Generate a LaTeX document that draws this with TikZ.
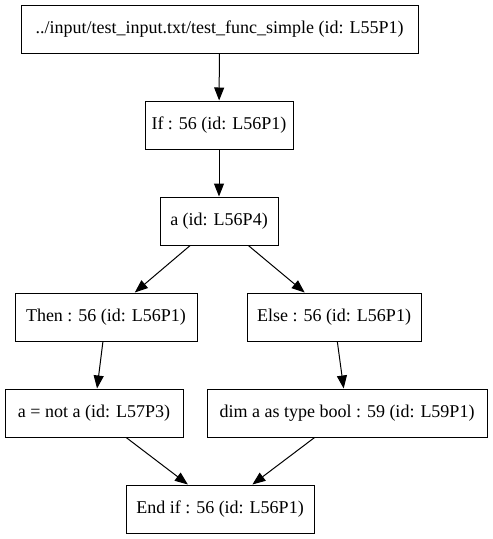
\documentclass[tikz,border=0pt]{standalone}
\usepackage{fontspec}
\setmainfont{Liberation Serif}
\usetikzlibrary{arrows.meta}
\begin{document}
\begin{tikzpicture}[x=1pt,y=-1pt,
  box/.style={draw,line width=1pt,rectangle,inner sep=0pt,minimum height=48pt,font=\fontsize{18pt}{20pt}\selectfont},
  edge/.style={line width=1pt,-{Triangle[length=13pt,width=10pt]}}]
\useasboundingbox (0,0) rectangle (493,539);
\node[box,minimum width=397pt] (top) at (219.5,29) {../input/test\_input.txt/test\_func\_simple (id: L55P1)};
\node[box,minimum width=148pt] (if) at (219,125) {If : 56 (id: L56P1)};
\node[box,minimum width=118pt] (a) at (219,221) {a (id: L56P4)};
\node[box,minimum width=182pt] (then) at (106,317) {Then : 56 (id: L56P1)};
\node[box,minimum width=174pt] (else) at (334,317) {Else : 56 (id: L56P1)};
\node[box,minimum width=178pt] (anot) at (94,413) {a = not a (id: L57P3)};
\node[box,minimum width=280pt] (dim) at (347,413) {dim a as type bool : 59 (id: L59P1)};
\node[box,minimum width=188pt] (end) at (220,509) {End if : 56 (id: L56P1)};
\draw[edge] (top) -- (if);
\draw[edge] (if) -- (a);
\draw[edge] (a) -- (then);
\draw[edge] (a) -- (else);
\draw[edge] (then) -- (anot);
\draw[edge] (else) -- (dim);
\draw[edge] (anot) -- (end);
\draw[edge] (dim) -- (end);
\end{tikzpicture}
\end{document}
